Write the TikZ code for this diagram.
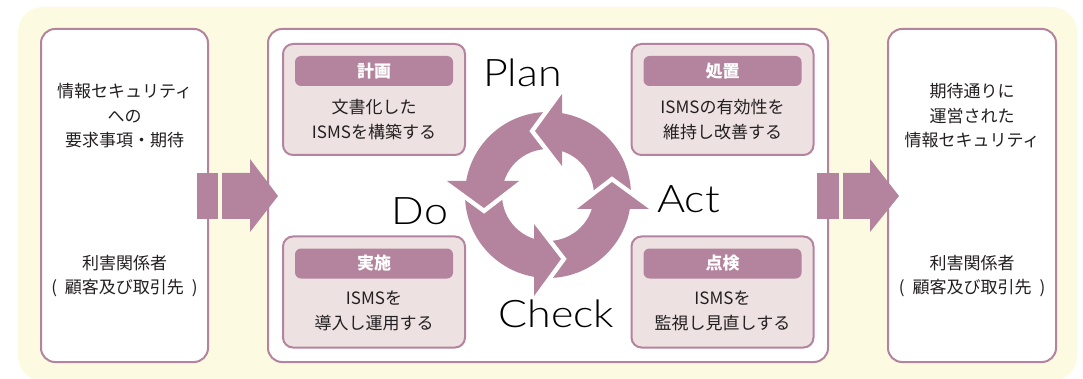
\documentclass[tikz,border=0pt]{standalone}
\usepackage{fontspec}
\newfontfamily\jp{Noto Sans CJK JP}
\newfontfamily\pdca{Lato Light}
\definecolor{pur}{HTML}{B4849E}
\definecolor{lightbox}{HTML}{EDE1E1}
\definecolor{bgyel}{HTML}{FDFAE2}
\definecolor{txt}{HTML}{231F20}
\tikzset{
  bigbox/.style={draw=pur, line width=2pt, fill=white, rounded corners=14pt, minimum height=333pt, inner sep=0pt},
  phasebox/.style={draw=pur, line width=2pt, fill=lightbox, rounded corners=10pt, minimum width=182pt, minimum height=111pt, inner sep=0pt},
  headbar/.style={fill=pur, rounded corners=6pt, minimum width=158pt, minimum height=30pt, inner sep=0pt, text=white, font=\jp\bfseries\fontsize{17}{20}\selectfont},
  jtext/.style={text=txt, align=center, inner sep=0pt, font=\jp\fontsize{17}{24.5}\selectfont},
  pdcalabel/.style={text=black, anchor=base, inner sep=0pt, xscale=1.13, font=\pdca\fontsize{38}{40}\selectfont},
  blockarrow/.style={fill=pur}
}
\newcommand{\stake}{利害関係者\\(\hspace{8pt}顧客及び取引先\hspace{8pt})}
\begin{document}
\begin{tikzpicture}[x=1pt,y=-1pt]
\useasboundingbox (0,0) rectangle (1083,379);
% background
\fill[bgyel, rounded corners=25pt] (18,7) rectangle (1077,381);
% outer boxes
\node[bigbox, minimum width=167pt] (left) at (124.5,195.5) {};
\node[bigbox, minimum width=560pt] (center) at (548,195.5) {};
\node[bigbox, minimum width=168pt] (right) at (972,195.5) {};
% left texts
\node[jtext] (lefttop) at (124.5,116) {情報セキュリティ\\への\\要求事項・期待};
\node[jtext] (leftbot) at (124.5,276) {\stake};
% right texts
\node[jtext] (righttop) at (972,116) {期待通りに\\運営された\\情報セキュリティ};
\node[jtext] (rightbot) at (972,276) {\stake};
% block arrows
\fill[blockarrow] (197,173) rectangle (218,219);
\fill[blockarrow] (222,173) -- (250,173) -- (250,159) -- (278,196) -- (250,232) -- (250,219) -- (222,219) -- cycle;
\fill[blockarrow] (817,173) rectangle (839,219);
\fill[blockarrow] (843,173) -- (870,173) -- (870,159) -- (899,196) -- (870,232) -- (870,219) -- (843,219) -- cycle;
% phase boxes
\node[phasebox] (planbox) at (374,99.5) {};
\node[phasebox] (actbox) at (722.5,99.5) {};
\node[phasebox] (dobox) at (374,292) {};
\node[phasebox] (checkbox) at (722.5,292) {};
\node[headbar] (planhead) at (374,71) {計画};
\node[headbar] (acthead) at (722.5,71) {処置};
\node[headbar] (dohead) at (374,263.5) {実施};
\node[headbar] (checkhead) at (722.5,263.5) {点検};
\node[jtext] (plantext) at (374,119.5) {文書化した\\ISMSを構築する};
\node[jtext] (acttext) at (722.5,119.5) {ISMSの有効性を\\維持し改善する};
\node[jtext] (dotext) at (374,311) {ISMSを\\導入し運用する};
\node[jtext] (checktext) at (722.5,311) {ISMSを\\監視し見直しする};
% cycle
\fill[pur, even odd rule] (548,195) circle[radius=83pt] (548,195) circle[radius=46pt];
\foreach \ox/\oy/\tx/\ty/\ix/\iy in {562/94/535/131/562/166, 447/181/484/208/519/181, 534/296/561/259/534/224, 649/209/612/182/577/209}{
  \draw[white, line width=9pt, line join=miter, miter limit=10] (\ox,\oy) -- (\tx,\ty) -- (\ix,\iy);
  \fill[pur] (\ox,\oy) -- (\tx,\ty) -- (\ix,\iy) -- cycle;
}
% PDCA labels
\node[pdcalabel] (plan) at (522.5,87) {Plan};
\node[pdcalabel] (do) at (420,225) {Do};
\node[pdcalabel] (act) at (688.5,213) {Act};
\node[pdcalabel] (check) at (556.5,327) {Check};
\end{tikzpicture}
\end{document}
